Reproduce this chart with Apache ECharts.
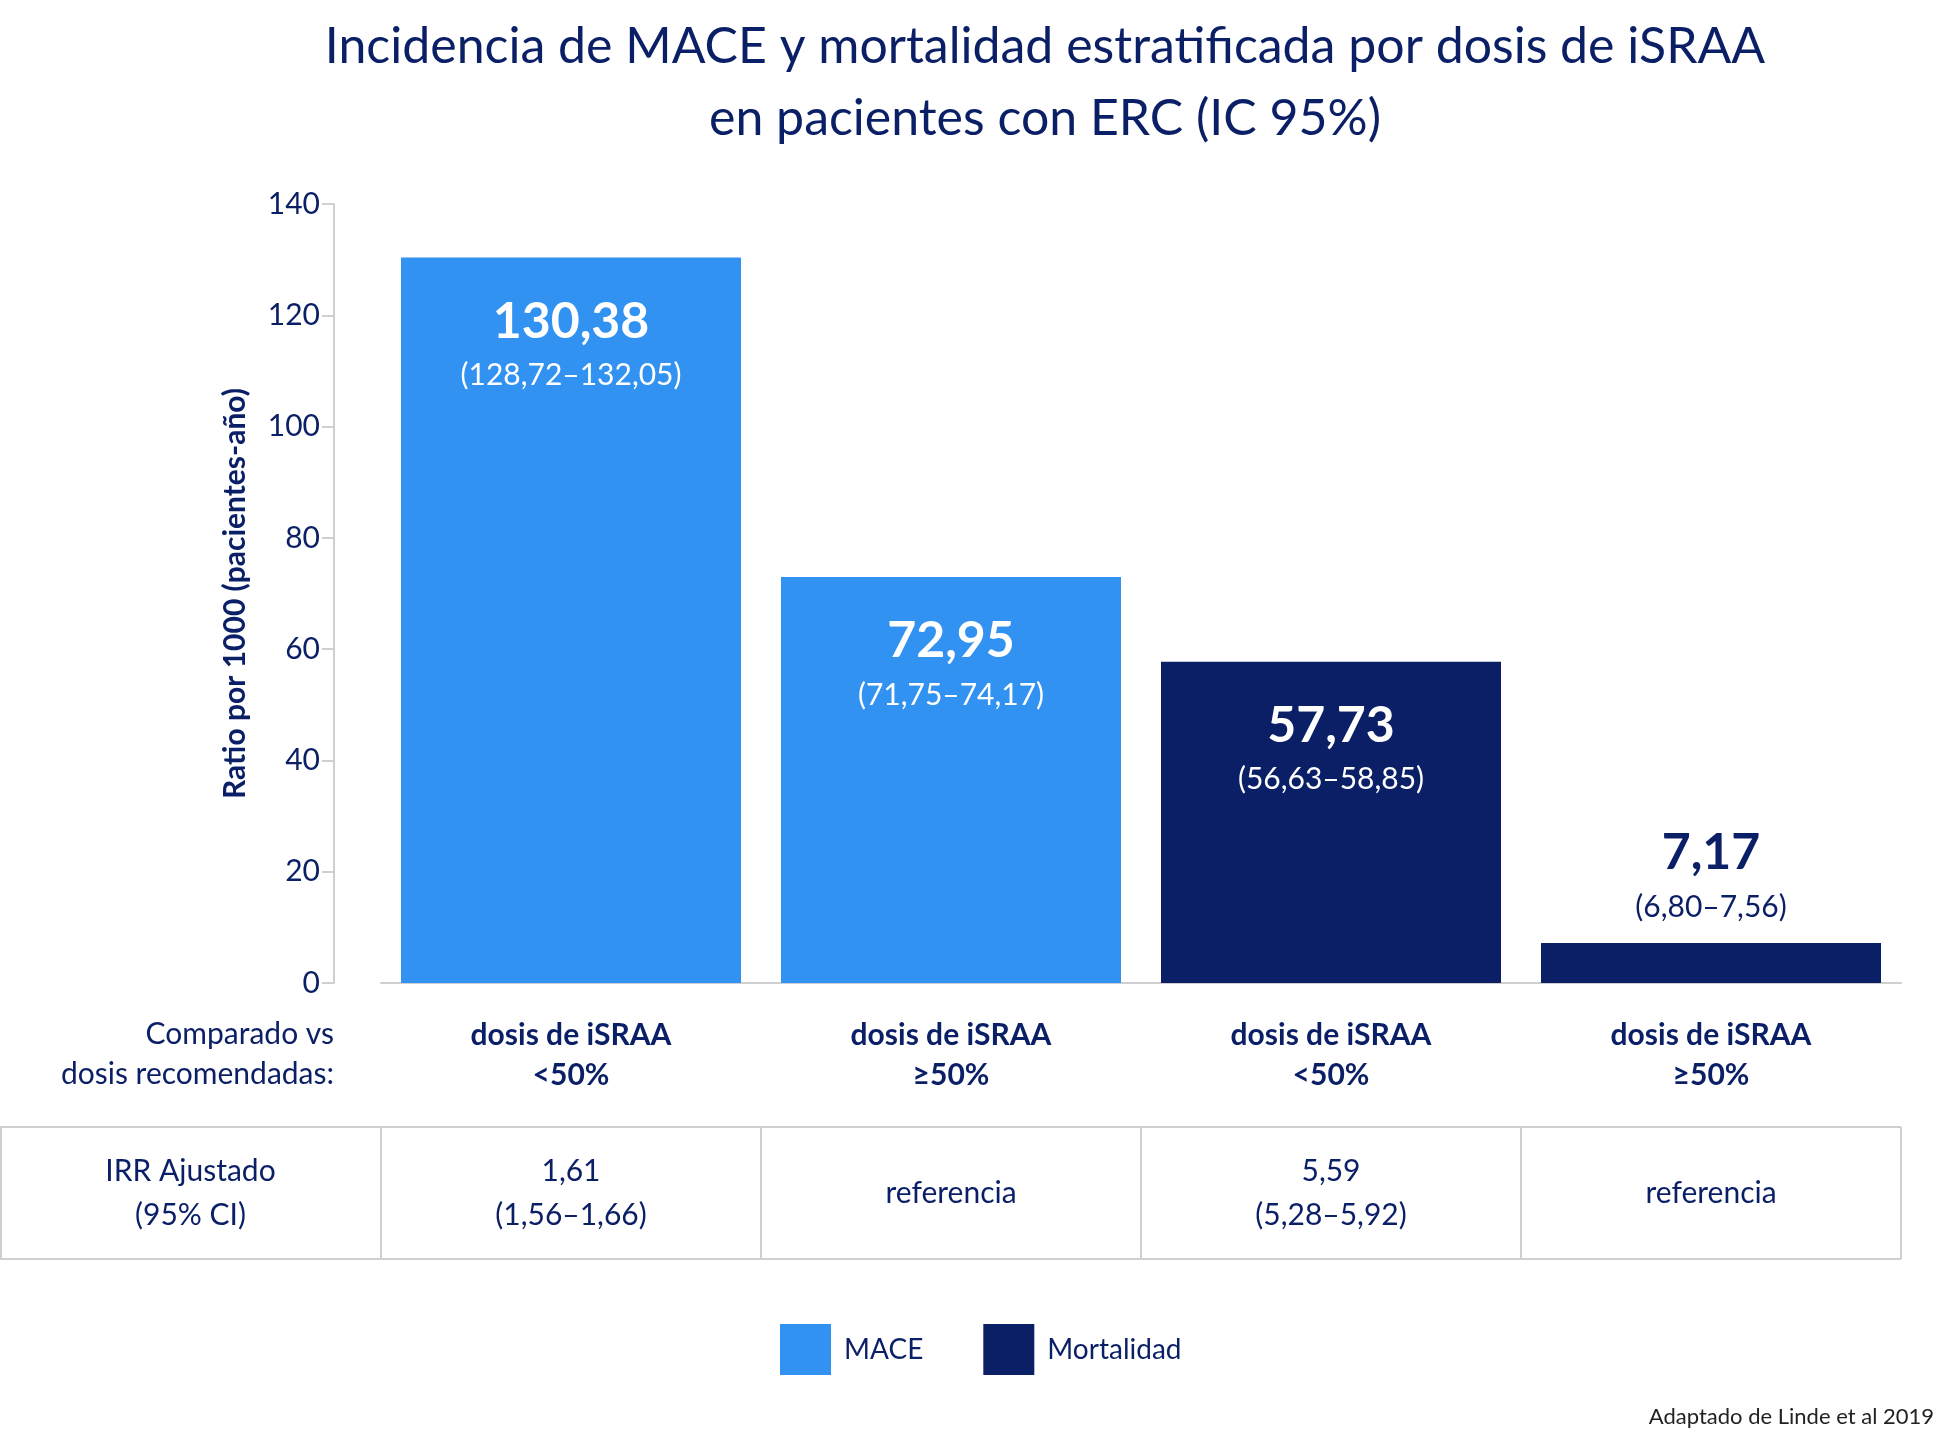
<!DOCTYPE html>
<html>
<head>
<meta charset="utf-8">
<script src="https://cdn.jsdelivr.net/npm/echarts@6/dist/echarts.min.js"></script>
<style>
  html, body { margin: 0; padding: 0; background: #fff; }
  #chart { width: 1938px; height: 1443px; }
</style>
</head>
<body>
<div id="chart"></div>
<script>
var categories = ['dosis de iSRAA\n<50%', 'dosis de iSRAA\n≥50%', 'dosis de iSRAA\n<50%', 'dosis de iSRAA\n≥50%'];
var maceValues = [130.38, 72.95, null, null];
var mortValues = [null, null, 57.73, 7.17];
var valueLabels = ['130,38', '72,95', '57,73', '7,17'];
var ciLabels = ['(128,72–132,05)', '(71,75–74,17)', '(56,63–58,85)', '(6,80–7,56)'];
var irrLabels = ['1,61\n(1,56–1,66)', 'referencia', '5,59\n(5,28–5,92)', 'referencia'];

var navy = '#0a1f66';
var blue = '#3192f1';
var font = 'Lato';

var myChart = echarts.init(document.getElementById('chart'));

function barLabel(i) {
    var inside = i < 3;
    return {
        show: true,
        position: inside ? 'insideTop' : 'top',
        distance: inside ? 34 : 12,
        formatter: '{v|' + valueLabels[i] + '}\n{c|' + ciLabels[i] + '}',
        rich: {
            v: { fontSize: 50, fontWeight: 'bold', color: inside ? '#fff' : navy, fontFamily: font, lineHeight: 60 },
            c: { fontSize: 30, color: inside ? '#fff' : navy, fontFamily: font, lineHeight: 48 }
        }
    };
}

function seriesData(values) {
    var out = [];
    for (var i = 0; i < values.length; i++) {
        if (values[i] === null) { out.push(null); continue; }
        out.push({ value: values[i], label: barLabel(i) });
    }
    return out;
}

// table grid lines and cells
var graphics = [];
var colX = [0, 381, 761, 1141, 1521, 1901];
var tTop = 1127, tBot = 1259;
graphics.push({ type: 'line', shape: { x1: 0, y1: tTop, x2: 1901, y2: tTop }, style: { stroke: '#cfcfcf', lineWidth: 2 } });
graphics.push({ type: 'line', shape: { x1: 0, y1: tBot, x2: 1901, y2: tBot }, style: { stroke: '#cfcfcf', lineWidth: 2 } });
for (var c = 0; c < colX.length; c++) {
    graphics.push({ type: 'line', shape: { x1: colX[c] + (c === 0 ? 1 : 0), y1: tTop, x2: colX[c] + (c === 0 ? 1 : 0), y2: tBot }, style: { stroke: '#cfcfcf', lineWidth: 2 } });
}
var cellTexts = ['IRR Ajustado\n(95% CI)'].concat(irrLabels);
for (var k = 0; k < cellTexts.length; k++) {
    graphics.push({
        type: 'text',
        x: (colX[k] + colX[k + 1]) / 2, y: (tTop + tBot) / 2,
        style: { text: cellTexts[k], font: '30px ' + font, fill: navy, align: 'center', verticalAlign: 'middle', lineHeight: 44 }
    });
}
graphics.push({
    type: 'text', x: 334, y: 1054,
    style: { text: 'Comparado vs\ndosis recomendadas:', font: '30px ' + font, fill: navy, align: 'right', verticalAlign: 'middle', lineHeight: 40 }
});
graphics.push({
    type: 'text', x: 1934, y: 1428,
    style: { text: 'Adaptado de Linde et al 2019', font: '22px ' + font, fill: '#222', align: 'right', verticalAlign: 'bottom' }
});

var option = {
    animation: false,
    title: {
        text: 'Incidencia de MACE y mortalidad estratificada por dosis de iSRAA\nen pacientes con ERC (IC 95%)',
        left: 1040, top: 6, textAlign: 'center',
        textStyle: { fontSize: 50, fontWeight: 'normal', color: navy, fontFamily: font, lineHeight: 72 }
    },
    legend: {
        data: ['MACE', 'Mortalidad'],
        left: 775, top: 1319,
        itemWidth: 51, itemHeight: 51, itemGap: 60,
        icon: 'rect',
        textStyle: { fontSize: 28, color: navy, fontFamily: font, padding: [0, 0, 0, 8] }
    },
    grid: { left: 381, right: 37, top: 204, height: 779, containLabel: false },
    xAxis: {
        type: 'category',
        data: categories,
        axisLine: { show: true, lineStyle: { color: '#cfcfcf', width: 2 } },
        axisTick: { show: false },
        axisLabel: { color: navy, fontSize: 30, fontWeight: 'bold', fontFamily: font, lineHeight: 40, margin: 32 }
    },
    yAxis: {
        type: 'value',
        min: 0, max: 140, interval: 20,
        offset: 47,
        name: 'Ratio por 1000 (pacientes-año)',
        nameLocation: 'middle', nameGap: 84,
        nameTextStyle: { color: navy, fontSize: 30, fontWeight: 'bold', fontFamily: font },
        axisLine: { show: true, lineStyle: { color: '#cfcfcf', width: 2 } },
        axisTick: { show: true, length: 12, lineStyle: { color: '#cfcfcf', width: 2 } },
        splitLine: { show: false },
        axisLabel: { color: navy, fontSize: 30, fontFamily: font, margin: 14 }
    },
    series: [{
        name: 'MACE', type: 'bar', barWidth: 340, barGap: '-100%',
        itemStyle: { color: blue },
        data: seriesData(maceValues)
    }, {
        name: 'Mortalidad', type: 'bar', barWidth: 340, barGap: '-100%',
        itemStyle: { color: navy },
        data: seriesData(mortValues)
    }],
    graphic: graphics
};
myChart.setOption(option);
</script>
</body>
</html>
